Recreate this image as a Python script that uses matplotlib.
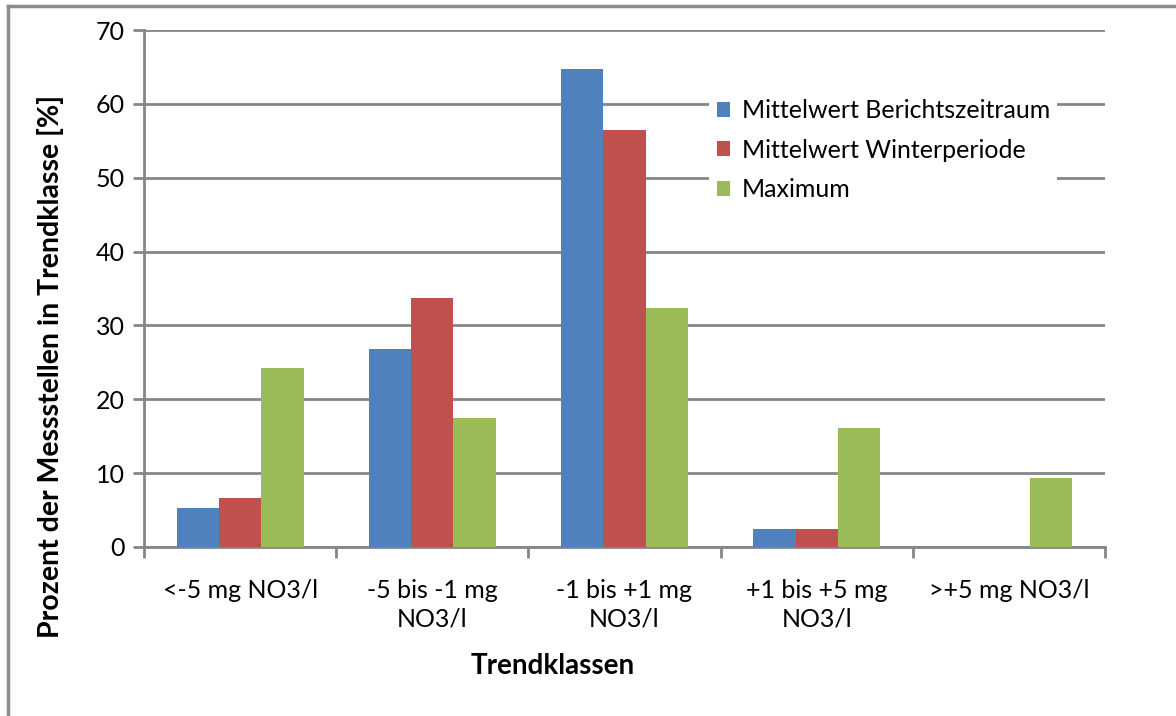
import matplotlib
import matplotlib.pyplot as plt
import numpy as np
from matplotlib.lines import Line2D

matplotlib.use("Agg")

plt.rcParams["font.family"] = ["Lato", "DejaVu Sans"]

CATEGORIES = [
    "<-5 mg NO3/l",
    "-5 bis -1 mg\nNO3/l",
    "-1 bis +1 mg\nNO3/l",
    "+1 bis +5 mg\nNO3/l",
    ">+5 mg NO3/l",
]
SERIES = ["Mittelwert Berichtszeitraum", "Mittelwert Winterperiode", "Maximum"]
MITTEL_BERICHT = [5.3, 26.8, 64.7, 2.5, 0.0]
MITTEL_WINTER = [6.6, 33.7, 56.5, 2.5, 0.0]
MAXIMUM = [24.2, 17.4, 32.3, 16.1, 9.4]

COLORS = ["#4F81BD", "#C0504D", "#9BBB59"]
GRID = "#868686"

fig = plt.figure(figsize=(11.76, 7.16), dpi=100)
ax = fig.add_axes([144 / 1176, 169 / 716, 961 / 1176, 517 / 716])

x = np.arange(len(CATEGORIES))
width = 0.22
for i, (vals, name) in enumerate(zip([MITTEL_BERICHT, MITTEL_WINTER, MAXIMUM], SERIES)):
    ax.bar(x + (i - 1) * width, vals, width, color=COLORS[i], label=name, zorder=3,
           edgecolor="none")

ax.set_xlim(-0.5, len(CATEGORIES) - 0.5)
ax.set_ylim(0, 70)
ax.set_yticks(range(0, 71, 10))
ax.yaxis.grid(True, color=GRID, lw=2, zorder=0)
ax.set_axisbelow(True)

# category labels at centres, tick marks at the boundaries
ax.set_xticks(x)
ax.set_xticklabels(CATEGORIES, fontsize=18, linespacing=1.3)
ax.set_xticks(np.arange(-0.5, len(CATEGORIES)), minor=True)
ax.tick_params(axis="x", which="major", length=0, pad=23)
ax.tick_params(axis="x", which="minor", length=8, width=2, color=GRID)
ax.tick_params(axis="y", length=8, width=2, color=GRID, labelsize=18, pad=6)

for side in ("top", "right"):
    ax.spines[side].set_visible(False)
for side in ("left", "bottom"):
    ax.spines[side].set_color(GRID)
    ax.spines[side].set_linewidth(2)

ax.set_xlabel("Trendklassen", fontsize=20, fontweight="bold", labelpad=18)
ax.xaxis.set_label_coords(0.425, -0.205)
ax.set_ylabel("Prozent der Messstellen in Trendklasse [%]", fontsize=20.5,
              fontweight="bold")
ax.yaxis.set_label_coords(-0.083, 0.35)

leg = ax.legend(loc="upper left", bbox_to_anchor=(0.575, 0.905), fontsize=18,
                frameon=True, fancybox=False, framealpha=1, edgecolor="white",
                handlelength=0.55, handleheight=0.55, handletextpad=0.45,
                labelspacing=0.66, borderpad=0.3)
leg.get_frame().set_linewidth(0)

# outer chart frame (only left and top edges are inside the image)
fig.add_artist(Line2D([8 / 1176, 8 / 1176], [0, 1 - 6 / 716], color="#8c8c8c", lw=2.5))
fig.add_artist(Line2D([8 / 1176, 1], [1 - 6 / 716, 1 - 6 / 716], color="#8c8c8c", lw=2.5))

fig.savefig("out.png", dpi=100)
